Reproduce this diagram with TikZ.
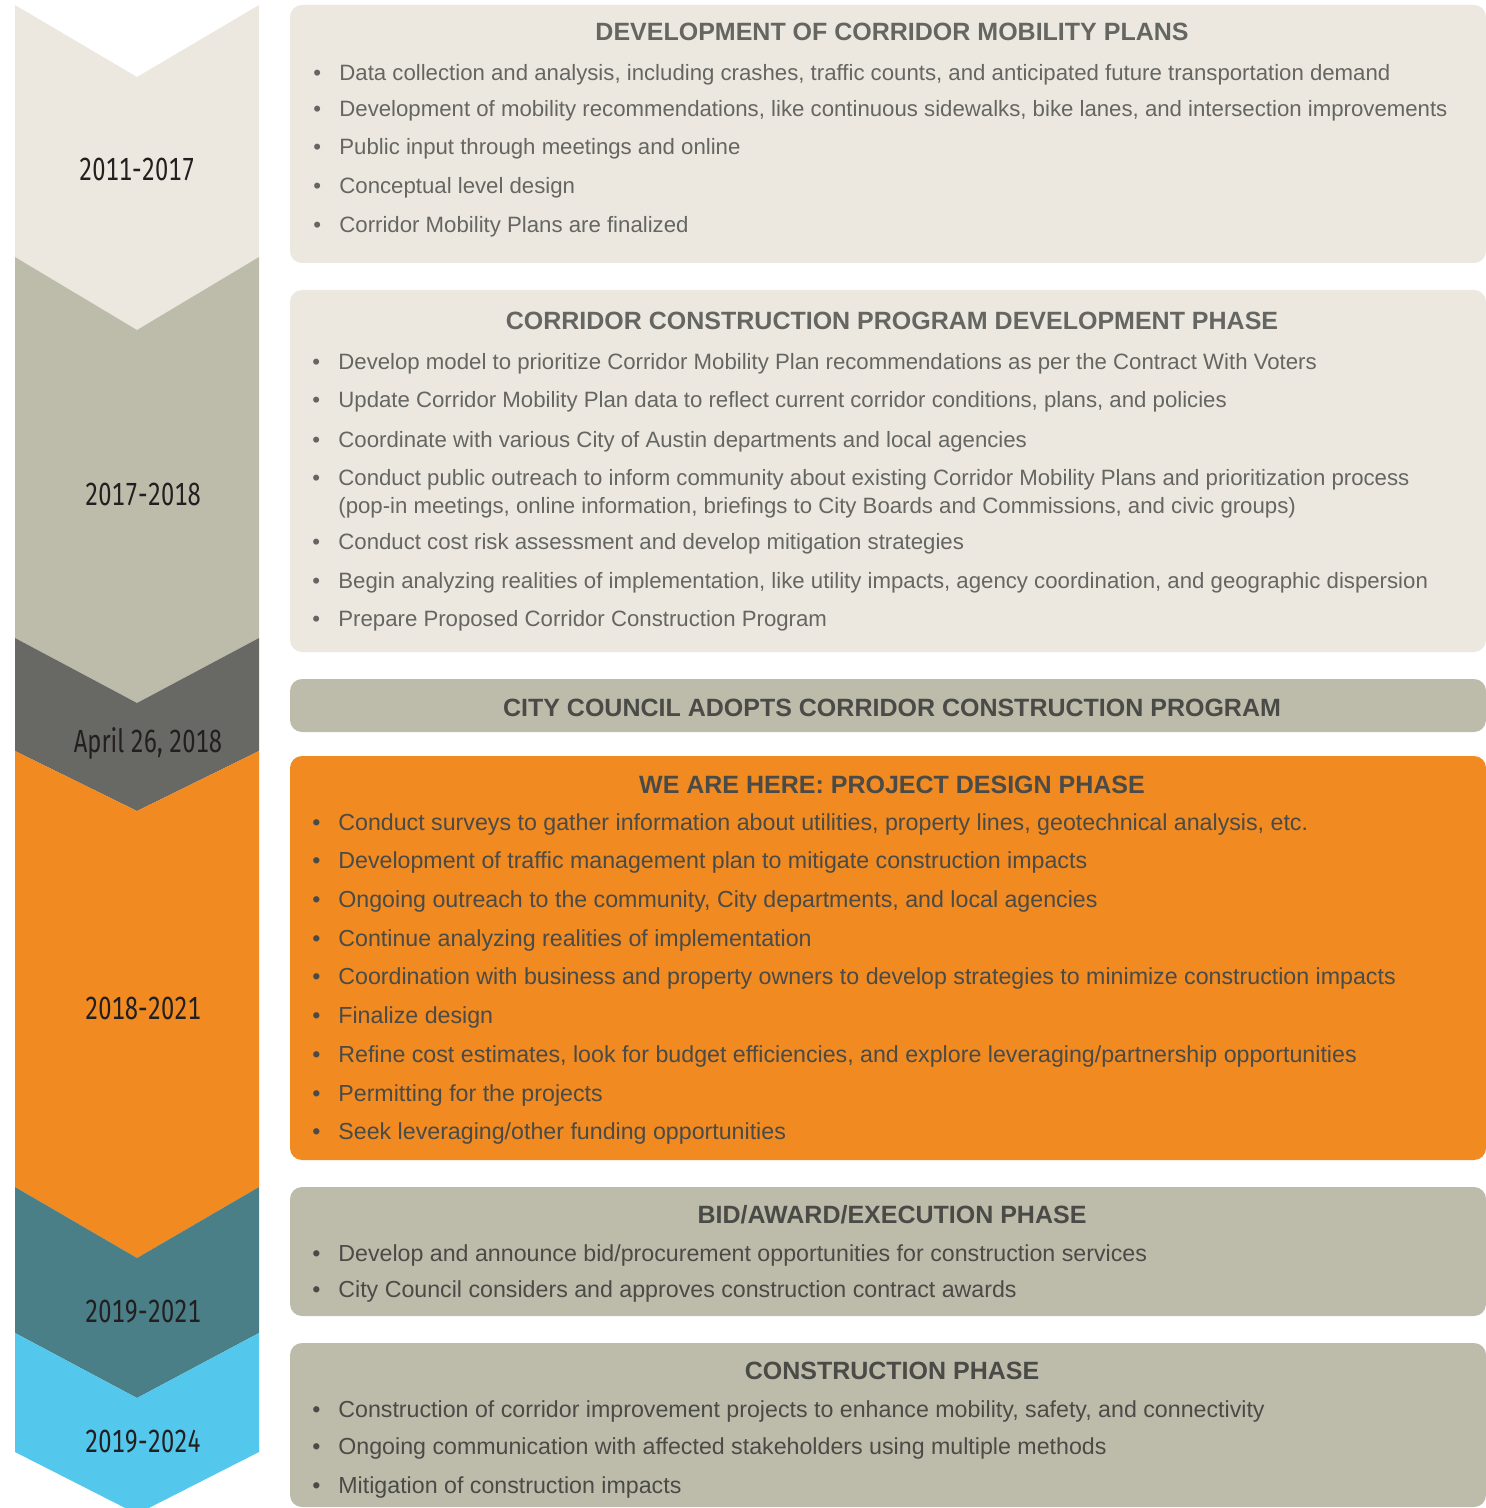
\documentclass[tikz,border=0pt]{standalone}
\usepackage{fontspec}
\setmainfont{Liberation Sans}
\newfontfamily\bodyfont{Liberation Sans}
\newfontfamily\datefont[FakeStretch=0.74, Numbers=Monospaced]{Fira Sans}
\usetikzlibrary{positioning}
\definecolor{tlcream}{HTML}{EDE8DF}
\definecolor{tlsage}{HTML}{BDBCAB}
\definecolor{tlslate}{HTML}{686864}
\definecolor{tlorange}{HTML}{F08A21}
\definecolor{tlteal}{HTML}{4A7F87}
\definecolor{tlsky}{HTML}{54C8EC}
\definecolor{tlsoft}{HTML}{656562}
\definecolor{tldark}{HTML}{4A4A47}
\definecolor{tldate}{HTML}{231F20}
\tikzset{
  phasebox/.style={rounded corners=6pt},
  phasehead/.style={anchor=base, inner sep=0pt, font=\bodyfont\fontsize{12.5}{14}\selectfont\bfseries},
  phaseitem/.style={anchor=base west, inner sep=0pt, text=tlsoft, font=\bodyfont\fontsize{11.1}{13}\selectfont},
  darkitem/.style={anchor=base west, inner sep=0pt, text=tldark, font=\bodyfont\fontsize{11.6}{13}\selectfont},
  datelabel/.style={anchor=base, inner sep=0pt, text=tldate, font=\datefont\fontsize{16}{18}\selectfont}
}
\newcommand{\bul}{\makebox[13pt][l]{\textbullet}}

\begin{document}
\begin{tikzpicture}[x=0.5pt, y=-0.5pt]
  \useasboundingbox (0,0) rectangle (1486,1508);
  % timeline chevrons
  \foreach \c/\ta/\tb/\ba/\bb in {tlcream/5/77/257/330, tlsage/257/330/638/703, tlslate/638/703/751/811,
      tlorange/751/811/1187/1258, tlteal/1187/1258/1333/1398, tlsky/1333/1398/1452/1514}
    \fill[\c] (15,\ta) -- (137,\tb) -- (259,\ta) -- (259,\ba) -- (137,\bb) -- (15,\ba) -- cycle;
  \node[datelabel] (d1) at (137,181) {2011-2017};
  \node[datelabel] (d2) at (143,505) {2017-2018};
  \node[datelabel] (d3) at (148,752) {April 26, 2018};
  \node[datelabel] (d4) at (143,1019) {2018-2021};
  \node[datelabel] (d5) at (143,1322) {2019-2021};
  \node[datelabel] (d6) at (143,1452) {2019-2024};

  % phase boxes
  \fill[phasebox, tlcream] (290,5) rectangle (1486,263);
  \fill[phasebox, tlcream] (290,290) rectangle (1486,652);
  \fill[phasebox, tlsage] (290,679) rectangle (1486,732);
  \fill[phasebox, tlorange] (290,756) rectangle (1486,1160);
  \fill[phasebox, tlsage] (290,1187) rectangle (1486,1316);
  \fill[phasebox, tlsage] (290,1343) rectangle (1486,1507);

  % corridor mobility plans
  \node[phasehead, text=tlsoft] (mob) at (892,41) {DEVELOPMENT OF CORRIDOR MOBILITY PLANS};
  \foreach \y/\t [count=\i] in {
      81/{Data collection and analysis, including crashes, traffic counts, and anticipated future transportation demand},
      117/{Development of mobility recommendations, like continuous sidewalks, bike lanes, and intersection improvements},
      155/{Public input through meetings and online},
      194/{Conceptual level design},
      233/{Corridor Mobility Plans are finalized}}
    \node[phaseitem] (mob-\i) at (313,\y) {\bul\t};

  % program development
  \node[phasehead, text=tlsoft] (ccp) at (892,329) {CORRIDOR CONSTRUCTION PROGRAM DEVELOPMENT PHASE};
  \foreach \y/\t [count=\i] in {
      369/{Develop model to prioritize Corridor Mobility Plan recommendations as per the Contract With Voters},
      408/{Update Corridor Mobility Plan data to reflect current corridor conditions, plans, and policies},
      447/{Coordinate with various City of Austin departments and local agencies},
      485/{Conduct public outreach to inform community about existing Corridor Mobility Plans and prioritization process},
      549/{Conduct cost risk assessment and develop mitigation strategies},
      588/{Begin analyzing realities of implementation, like utility impacts, agency coordination, and geographic dispersion},
      626/{Prepare Proposed Corridor Construction Program}}
    \node[phaseitem] (ccp-\i) at (312,\y) {\bul\t};
  \node[phaseitem] (ccp-4b) at (338,513) {(pop-in meetings, online information, briefings to City Boards and Commissions, and civic groups)};

  % adoption
  \node[phasehead, text=tldark] (adopt) at (892,716) {CITY COUNCIL ADOPTS CORRIDOR CONSTRUCTION PROGRAM};

  % design phase
  \node[phasehead, text=tldark] (pdp) at (892,793) {WE ARE HERE: PROJECT DESIGN PHASE};
  \foreach \y/\t [count=\i] in {
      830/{Conduct surveys to gather information about utilities, property lines, geotechnical analysis, etc.},
      868/{Development of traffic management plan to mitigate construction impacts},
      907/{Ongoing outreach to the community, City departments, and local agencies},
      946/{Continue analyzing realities of implementation},
      984/{Coordination with business and property owners to develop strategies to minimize construction impacts},
      1023/{Finalize design},
      1062/{Refine cost estimates, look for budget efficiencies, and explore leveraging/partnership opportunities},
      1101/{Permitting for the projects},
      1139/{Seek leveraging/other funding opportunities}}
    \node[darkitem] (pdp-\i) at (312,\y) {\bul\t};

  % bid phase
  \node[phasehead, text=tldark] (bid) at (892,1223) {BID/AWARD/EXECUTION PHASE};
  \foreach \y/\t [count=\i] in {
      1261/{Develop and announce bid/procurement opportunities for construction services},
      1297/{City Council considers and approves construction contract awards}}
    \node[darkitem] (bid-\i) at (312,\y) {\bul\t};

  % construction phase
  \node[phasehead, text=tldark] (con) at (892,1379) {CONSTRUCTION PHASE};
  \foreach \y/\t [count=\i] in {
      1417/{Construction of corridor improvement projects to enhance mobility, safety, and connectivity},
      1454/{Ongoing communication with affected stakeholders using multiple methods},
      1493/{Mitigation of construction impacts}}
    \node[darkitem] (con-\i) at (312,\y) {\bul\t};
\end{tikzpicture}
\end{document}
